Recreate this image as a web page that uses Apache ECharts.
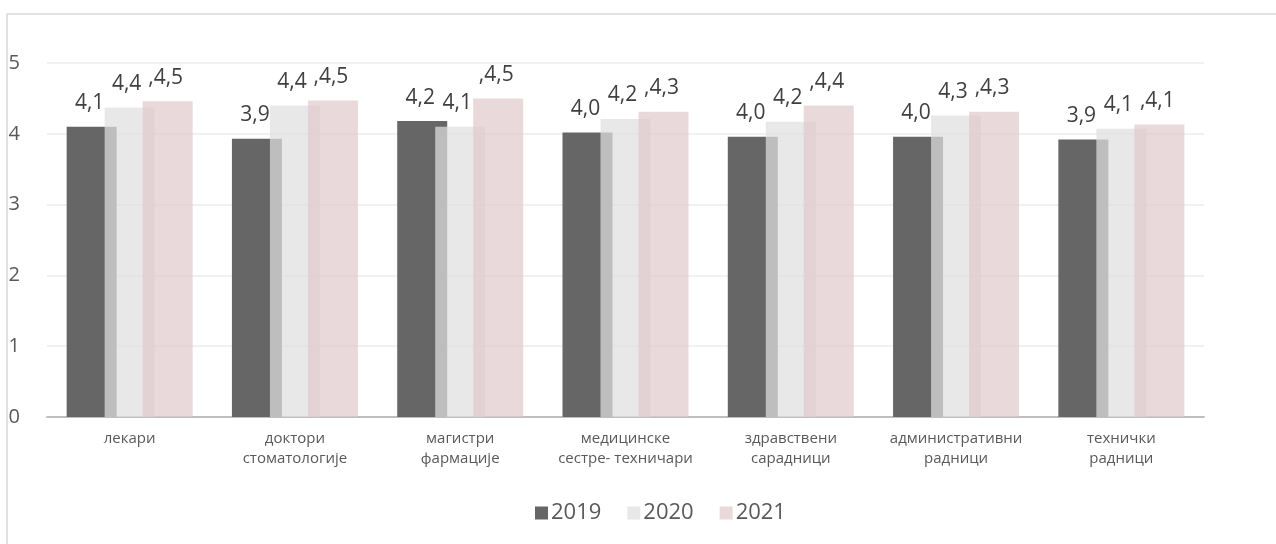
<!DOCTYPE html>
<html>
<head>
<meta charset="utf-8">
<script src="https://cdn.jsdelivr.net/npm/echarts@6/dist/echarts.min.js"></script>
<style>
  html, body { margin: 0; padding: 0; background: #fff; }
  #chart { width: 1276px; height: 544px; }
</style>
</head>
<body>
<div id="chart"></div>
<script>
// Data
const years = ['2019', '2020', '2021'];
const categories = [
  'лекари',
  'доктори\nстоматологије',
  'магистри\nфармације',
  'медицинске\nсестре- техничари',
  'здравствени\nсарадници',
  'административни\nрадници',
  'технички\nрадници'
];
const values2019 = [4.10, 3.93, 4.18, 4.02, 3.96, 3.96, 3.92];
const values2020 = [4.37, 4.40, 4.10, 4.21, 4.17, 4.26, 4.07];
const values2021 = [4.46, 4.47, 4.50, 4.31, 4.40, 4.31, 4.13];
const yTicks = [0, 1, 2, 3, 4, 5];

const FONT = '"Open Sans", "DejaVu Sans", sans-serif';
const fmt = v => v.toFixed(1).replace('.', ',');

const chart = echarts.init(document.getElementById('chart'));

function barLabel(prefix, dx) {
  return {
    show: true,
    position: 'top',
    distance: 13,
    offset: [dx, 0],
    fontFamily: FONT,
    fontSize: 21,
    color: '#404040',
    formatter: p => prefix + fmt(p.value)
  };
}

const option = {
  animation: false,
  backgroundColor: '#fff',
  graphic: [{
    type: 'rect',
    shape: { x: 7, y: 14, width: 1300, height: 560 },
    style: { fill: 'none', stroke: '#d9d9d9', lineWidth: 1.5 },
    silent: true
  }],
  legend: {
    data: years,
    top: 497,
    left: 530,
    icon: 'rect',
    itemWidth: 13,
    itemHeight: 13,
    itemGap: 26,
    textStyle: { fontFamily: FONT, fontSize: 22, color: '#595959', padding: [0, 0, 0, -2] }
  },
  grid: { left: 47, right: 72, top: 63, bottom: 127 },
  xAxis: {
    type: 'category',
    data: categories,
    axisLine: { lineStyle: { color: '#bfbfbf', width: 2 } },
    axisTick: { show: false },
    axisLabel: {
      fontFamily: FONT,
      fontSize: 15,
      color: '#595959',
      lineHeight: 20,
      margin: 12,
      interval: 0
    }
  },
  yAxis: {
    type: 'value',
    min: yTicks[0],
    max: yTicks[yTicks.length - 1],
    interval: 1,
    axisLine: { show: false },
    axisTick: { show: false },
    axisLabel: { fontFamily: FONT, fontSize: 20, color: '#595959', margin: 27 },
    splitLine: { lineStyle: { color: '#ededed', width: 1.5 } }
  },
  series: [
    {
      name: years[0],
      type: 'bar',
      data: values2019,
      barWidth: 50,
      barGap: '-24%',
      itemStyle: { color: '#666666' },
      label: barLabel('', -2)
    },
    {
      name: years[1],
      type: 'bar',
      data: values2020,
      barWidth: 50,
      barGap: '-24%',
      itemStyle: { color: 'rgba(224,224,224,0.73)' },
      label: barLabel('', -3)
    },
    {
      name: years[2],
      type: 'bar',
      data: values2021,
      barWidth: 50,
      barGap: '-24%',
      itemStyle: { color: 'rgba(225,201,204,0.7)' },
      label: barLabel(',', -2)
    }
  ]
};

chart.setOption(option);
</script>
</body>
</html>
